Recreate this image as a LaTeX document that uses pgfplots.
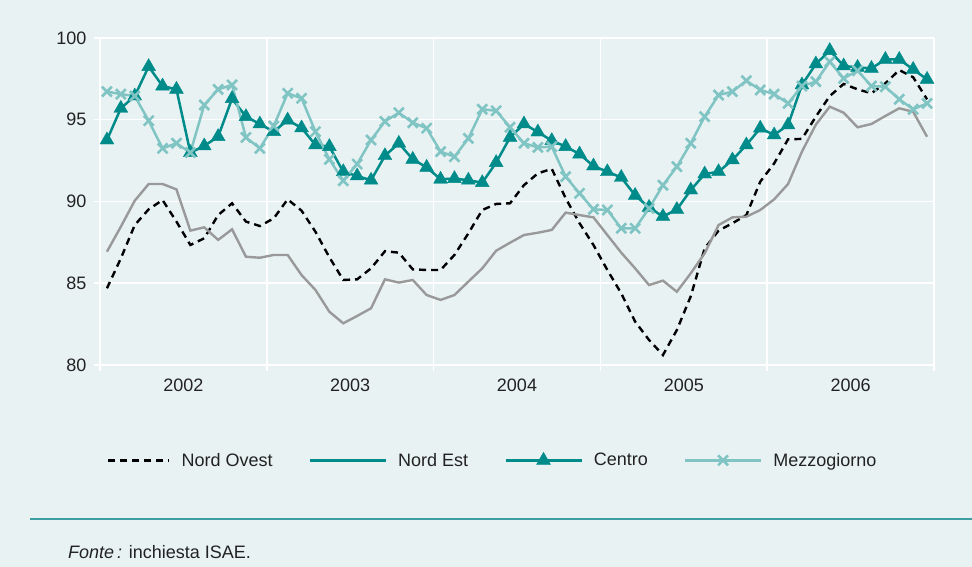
\documentclass[border=0pt]{standalone}
\usepackage{fontspec}
\setmainfont{Liberation Sans}
\usepackage{pgfplots}
\pgfplotsset{compat=1.18}
\usepackage{pgfplotstable}
\definecolor{bg}{HTML}{E9F2F3}
\definecolor{teal1}{HTML}{008B8B}
\definecolor{teal2}{HTML}{80C4C4}
\definecolor{gray1}{HTML}{999999}
\definecolor{rulec}{HTML}{3C9E9E}
\definecolor{txt}{HTML}{222222}

\pgfplotsset{
  legdash/.style={legend image code/.code={\draw[##1] (0pt,0pt) -- (61pt,0pt);}},
  legline/.style={legend image code/.code={\draw[##1] (0pt,0pt) -- (76pt,0pt);}},
  legmark/.style={legend image code/.code={\draw[mark repeat=2,mark phase=2,##1] plot coordinates {(0pt,0pt) (38pt,0pt) (76pt,0pt)};}},
}

\pgfplotstableread{
x no ne ce me
0.5 84.69 86.93 93.76 96.72
1.5 86.52 88.46 95.70 96.57
2.5 88.56 90.05 96.45 96.45
3.5 89.52 91.07 98.25 94.94
4.5 90.09 91.07 97.06 93.25
5.5 88.77 90.74 96.86 93.56
6.5 87.34 88.22 92.99 92.99
7.5 87.75 88.42 93.40 95.90
8.5 89.17 87.65 93.97 96.86
9.5 89.89 88.30 96.29 97.13
10.5 88.77 86.62 95.19 93.92
11.5 88.50 86.56 94.74 93.25
12.5 88.97 86.73 94.27 94.62
13.5 90.13 86.73 94.98 96.62
14.5 89.44 85.50 94.50 96.31
15.5 88.15 84.59 93.46 94.27
16.5 86.59 83.26 93.36 92.58
17.5 85.20 82.55 91.82 91.27
18.5 85.24 83.00 91.56 92.29
19.5 85.91 83.47 91.30 93.76
20.5 86.96 85.24 92.80 94.90
21.5 86.87 85.04 93.56 95.43
22.5 85.85 85.20 92.58 94.82
23.5 85.81 84.28 92.09 94.48
24.5 85.81 83.98 91.36 93.05
25.5 86.73 84.28 91.40 92.74
26.5 88.05 85.10 91.30 93.86
27.5 89.48 85.91 91.15 95.64
28.5 89.85 86.99 92.38 95.55
29.5 89.89 87.48 93.92 94.54
30.5 91.00 87.95 94.74 93.56
31.5 91.72 88.09 94.25 93.31
32.5 92.00 88.26 93.72 93.35
33.5 90.20 89.32 93.36 91.52
34.5 88.67 89.17 92.90 90.50
35.5 87.34 89.03 92.17 89.52
36.5 85.81 87.95 91.82 89.48
37.5 84.38 86.87 91.47 88.36
38.5 82.65 85.91 90.37 88.36
39.5 81.53 84.89 89.64 89.58
40.5 80.61 85.16 89.08 91.00
41.5 82.14 84.48 89.51 92.13
42.5 84.20 85.61 90.70 93.56
43.5 87.13 86.83 91.68 95.19
44.5 88.22 88.56 91.82 96.51
45.5 88.67 89.03 92.54 96.72
46.5 89.17 89.07 93.46 97.39
47.5 91.21 89.48 94.48 96.82
48.5 92.33 90.13 94.07 96.57
49.5 93.80 91.07 94.68 96.00
50.5 93.83 93.05 97.13 97.06
51.5 95.19 94.70 98.41 97.33
52.5 96.45 95.80 99.23 98.55
53.5 97.19 95.43 98.29 97.53
54.5 96.86 94.54 98.20 98.00
55.5 96.62 94.74 98.14 97.06
56.5 97.23 95.23 98.69 97.02
57.5 98.04 95.70 98.69 96.25
58.5 97.60 95.49 98.08 95.64
59.5 96.25 93.96 97.47 96.00
}\data

\begin{document}
\begin{tikzpicture}
\fill[bg] (0pt,0pt) rectangle (972pt,567pt);
\begin{axis}[
  at={(100pt,202pt)}, anchor=south west,
  scale only axis, width=834pt, height=327pt,
  xmin=0, xmax=60, ymin=80, ymax=100,
  axis line style={draw=none},
  tick pos=left,
  xtick={0,12,...,60}, xticklabels={,,,,,},
  ytick={80,85,...,100},
  grid=major, major grid style={white, line width=1.5pt},
  tick style={white, line width=1.5pt}, tick align=outside, major tick length=6pt,
  extra x ticks={6,18,30,42,54},
  extra x tick labels={2002,2003,2004,2005,2006},
  extra x tick style={grid=none, major tick length=0pt},
  tick label style={font=\fontsize{18}{20}\selectfont, text=txt},
  xticklabel style={yshift=-10pt},
  yticklabel style={xshift=-4pt},
  /pgf/number format/assume math mode=true,
  clip=false,
  legend columns=4,
  legend cell align=left,
  legend style={at={(0.0084,-0.2905)}, anchor=west, draw=none, fill=none,
    font=\fontsize{18}{20}\selectfont, text=txt, inner sep=0pt,
    nodes={inner sep=0pt},
    /tikz/every odd column/.append style={column sep=11pt},
    /tikz/every even column/.append style={column sep=36pt}},
]
\addplot[black, line width=2.4pt, dash pattern=on 7pt off 5pt, legdash]
  table[x=x, y=no] {\data};
\addplot[gray1, line width=2.4pt, forget plot] table[x=x, y=ne] {\data};
\addlegendimage{teal1, line width=2.6pt, legline}
\addplot[teal1, line width=2.5pt, mark=triangle*, mark size=8pt,
  mark options={solid, fill=teal1, draw=teal1, line width=0.4pt}, legmark]
  table[x=x, y=ce] {\data};
\addplot[teal2, line width=2.5pt, mark=x, mark size=7pt,
  mark options={solid, line width=2.6pt}, legmark]
  table[x=x, y=me] {\data};
\legend{Nord Ovest, Nord Est, Centro, Mezzogiorno}
\end{axis}
\draw[rulec, line width=2pt] (30pt,48pt) -- (972pt,48pt);
\node[anchor=base west, inner sep=0pt, font=\fontsize{18}{20}\selectfont, text=txt] at (68pt,8pt) {\textit{Fonte\,:} inchiesta ISAE.};
\pgfresetboundingbox
\useasboundingbox (0pt,0pt) rectangle (972pt,567pt);
\end{tikzpicture}
\end{document}
